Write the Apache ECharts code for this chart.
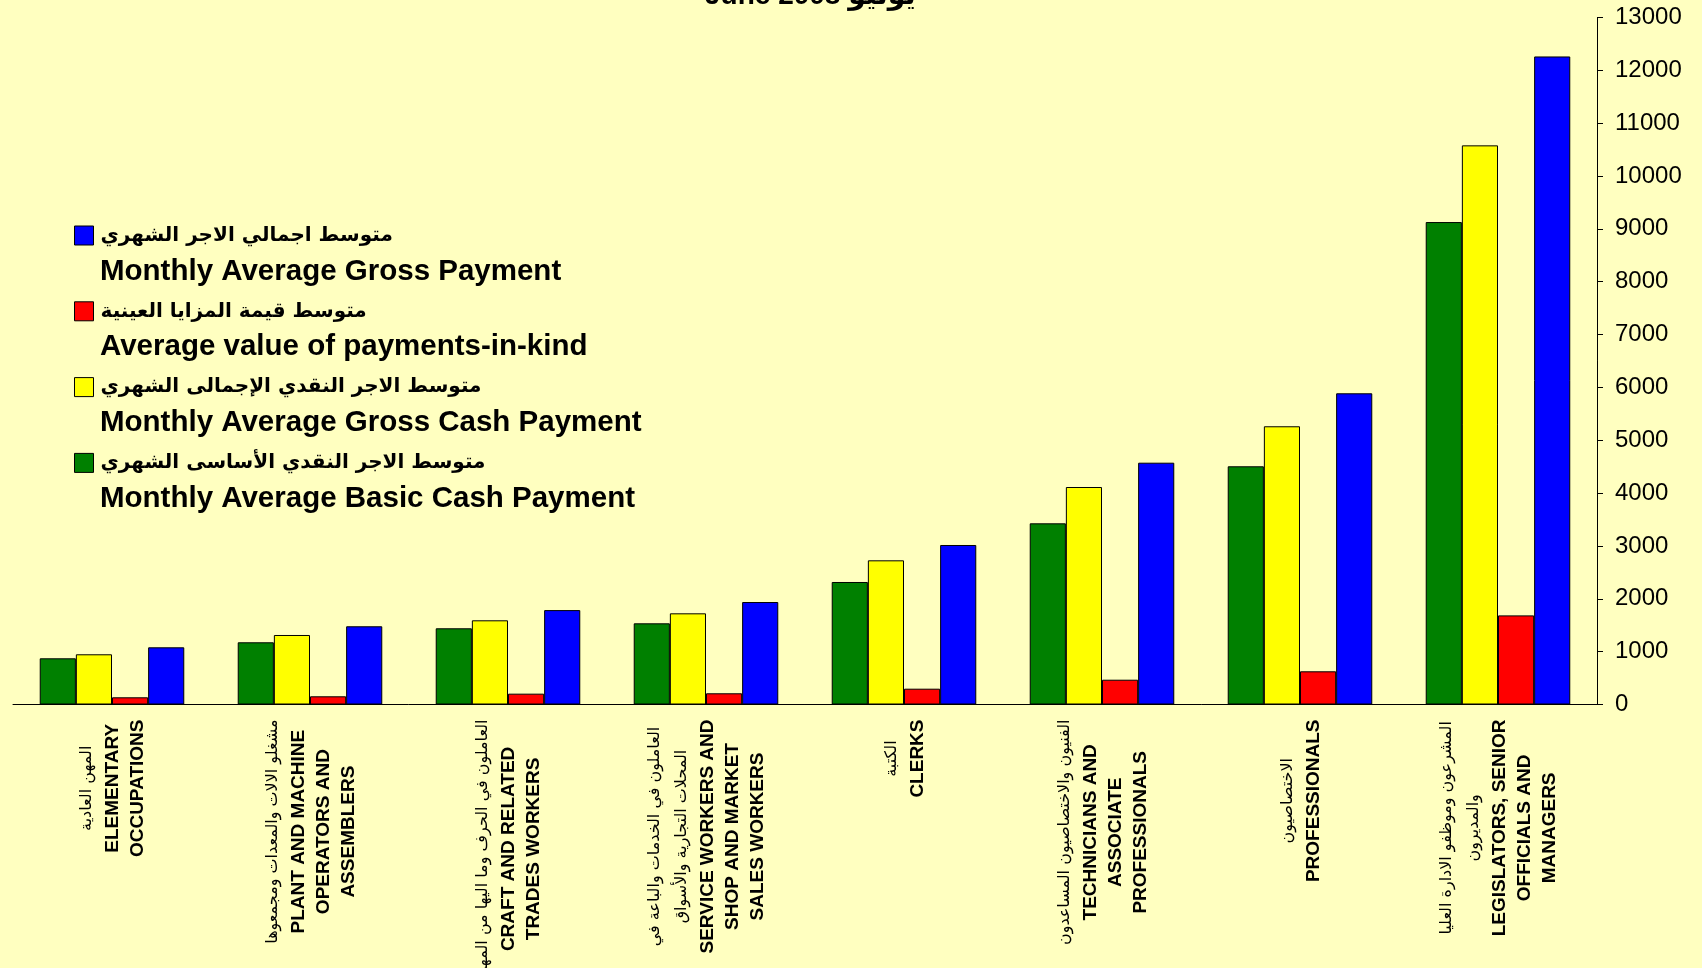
<!DOCTYPE html>
<html lang="ar">
<head>
  <meta charset="UTF-8">
  <title>Monthly average payment by occupation</title>
  <style>
    html, body { margin: 0; padding: 0; background: #ffffc0; }
    #chart { width: 1702px; height: 968px; }
  </style>
</head>
<body>
  <div id="chart"></div>
  <script src="https://cdn.jsdelivr.net/npm/echarts@6/dist/echarts.min.js"></script>
  <script>
    // occupation groups, each label = arabic line(s) + english line(s)
    const catAr = [
      ['المهن العادية'],
      ['مشغلو الالات والمعدات ومجمعوها'],
      ['العاملون في الحرف وما اليها من المهن'],
      ['العاملون في الخدمات والباعة في', 'المحلات التجارية والأسواق'],
      ['الكتبة'],
      ['الفنيون والاختصاصيون المساعدون'],
      ['الاختصاصيون'],
      ['المشرعون وموظفو الادارة العليا', 'والمديرون']
    ]
    const catEn = [
      ['ELEMENTARY', 'OCCUPATIONS'],
      ['PLANT AND MACHINE', 'OPERATORS AND', 'ASSEMBLERS'],
      ['CRAFT AND RELATED', 'TRADES WORKERS'],
      ['SERVICE WORKERS AND', 'SHOP AND MARKET', 'SALES WORKERS'],
      ['CLERKS'],
      ['TECHNICIANS AND', 'ASSOCIATE', 'PROFESSIONALS'],
      ['PROFESSIONALS'],
      ['LEGISLATORS, SENIOR', 'OFFICIALS AND', 'MANAGERS']
    ]
    const categories = catEn.map(l => l.join(' '))

    // series values (Qatari riyal)
    const basicCash = [874, 1177, 1442, 1536, 2318, 3428, 4507, 9128]
    const grossCash = [950, 1315, 1593, 1725, 2728, 4115, 5264, 10579]
    const inKind    = [136, 155, 205, 212, 299, 469, 628, 1686]
    const gross     = [1082, 1480, 1786, 1939, 3018, 4575, 5888, 12261]

    const yTicks = { min: 0, max: 13000, step: 1000 }

    // legend entries: arabic name (series name) + english caption
    const legendAr = [
      'متوسط اجمالي الاجر الشهري',
      'متوسط قيمة المزايا العينية',
      'متوسط الاجر النقدي الإجمالى الشهري',
      'متوسط الاجر النقدي الأساسى الشهري'
    ]
    const legendEn = [
      'Monthly Average Gross Payment',
      'Average value of payments-in-kind',
      'Monthly Average Gross Cash Payment',
      'Monthly Average Basic Cash Payment'
    ]
    const titleText = 'June 2008 يونيو'

    const chart = echarts.init(document.getElementById('chart'))

    function bar(name, data, color) {
      return {
        name: name,
        type: 'bar',
        data: data,
        barGap: '0%',
        barCategoryGap: '27%',
        itemStyle: { color: color, borderColor: '#000', borderWidth: 1 }
      }
    }

    // english captions under each legend row
    const legendTop = 216.5
    const rowStep = 75.8
    const captions = legendEn.map((t, i) => ({
      type: 'text',
      x: 100,
      y: 271.4 + i * rowStep,
      style: {
        text: t,
        fill: '#000',
        font: 'bold 29.5px "Liberation Sans", Arial, sans-serif',
        verticalAlign: 'middle'
      }
    }))

    const option = {
      backgroundColor: '#ffffc0',
      animation: false,
      title: {
        text: titleText,
        left: 700,
        top: -23,
        textStyle: { fontSize: 28, fontWeight: 'bold', color: '#000', fontFamily: '"Liberation Sans", "DejaVu Sans", sans-serif' }
      },
      legend: {
        orient: 'vertical',
        left: 74,
        top: legendTop,
        padding: 0,
        itemWidth: 19,
        itemHeight: 19,
        itemGap: rowStep - 38,
        icon: 'rect',
        data: [legendAr[0], legendAr[1], legendAr[2], legendAr[3]],
        itemStyle: { borderColor: '#000', borderWidth: 1 },
        textStyle: {
          fontSize: 20,
          fontWeight: 'bold',
          lineHeight: 38,
          color: '#000',
          fontFamily: '"DejaVu Sans", sans-serif',
          padding: [0, 0, 0, 2]
        }
      },
      graphic: captions,
      grid: { left: 13, right: 105, top: 17.4, bottom: 263.5, outerBoundsMode: 'none' },
      xAxis: {
        type: 'category',
        data: categories,
        axisLine: { lineStyle: { color: '#000', width: 1 } },
        axisTick: { length: 6, lineStyle: { color: '#000' } },
        axisLabel: {
          interval: 0,
          rotate: 90,
          margin: 15,
          color: '#000',
          formatter: function (value, idx) {
            const a = catAr[idx].map(s => '{ar|' + s + '}')
            const e = catEn[idx].map(s => '{en|' + s + '}')
            return a.concat(e).join('\n')
          },
          rich: {
            ar: { fontSize: 16, lineHeight: 27, align: 'center', color: '#000', fontFamily: '"DejaVu Sans", sans-serif' },
            en: { fontSize: 19, fontWeight: 'bold', lineHeight: 25, align: 'center', color: '#000', fontFamily: '"Liberation Sans", Arial, sans-serif' }
          }
        }
      },
      yAxis: {
        type: 'value',
        position: 'right',
        min: yTicks.min,
        max: yTicks.max,
        interval: yTicks.step,
        splitLine: { show: false },
        axisLine: { show: true, lineStyle: { color: '#000', width: 1 } },
        axisTick: { show: true, length: 6, lineStyle: { color: '#000' } },
        axisLabel: {
          margin: 18,
          fontSize: 24,
          color: '#000',
          fontFamily: '"Liberation Sans", Arial, sans-serif',
          formatter: v => String(v)
        }
      },
      series: [
        bar(legendAr[3], basicCash, '#008000'),
        bar(legendAr[2], grossCash, '#ffff00'),
        bar(legendAr[1], inKind, '#ff0000'),
        bar(legendAr[0], gross, '#0000ff')
      ]
    }

    chart.setOption(option)
  </script>
</body>
</html>
